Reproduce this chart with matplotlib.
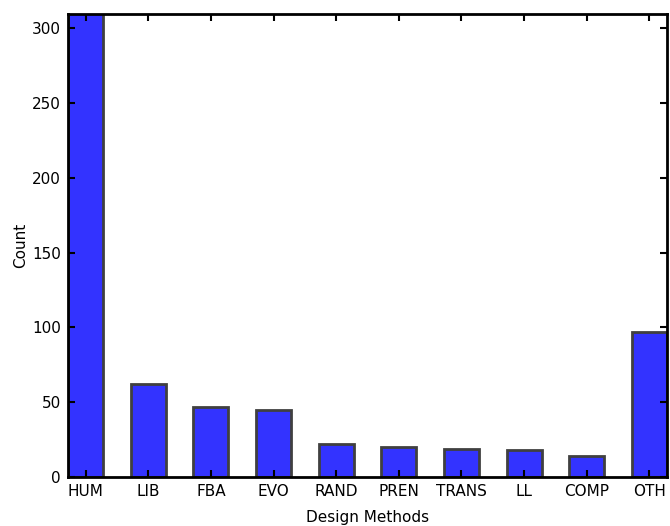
import numpy as np
import matplotlib.pyplot as plt

methods = ["HUM", "LIB", "FBA", "EVO", "RAND", "PREN", "TRANS", "LL", "COMP", "OTH"]
counts = [350, 62, 47, 45, 22, 20, 19, 18, 14, 97]

width = 0.56
x = np.arange(len(methods))

fig = plt.figure(figsize=(6.7, 5.26), dpi=100)
ax = fig.add_axes([0.1015, 0.0926, 0.894, 0.880])

ax.bar(x, counts, width, color="#3333ff", edgecolor="#404040", linewidth=2)

ax.set_xlim(-width / 2, len(methods) - 1 + width / 2)
ax.set_ylim(0, 309)
ax.set_xticks(x)
ax.set_xticklabels(methods)
ax.set_yticks(range(0, 301, 50))

for s in ax.spines.values():
    s.set_linewidth(2)
ax.tick_params(direction="in", length=5, width=1.5, top=True, right=True,
               labelsize=11, pad=5)

ax.set_xlabel("Design Methods", fontsize=11, labelpad=8)
ax.set_ylabel("Count", fontsize=11, labelpad=3)

fig.savefig("out.png", dpi=100)
